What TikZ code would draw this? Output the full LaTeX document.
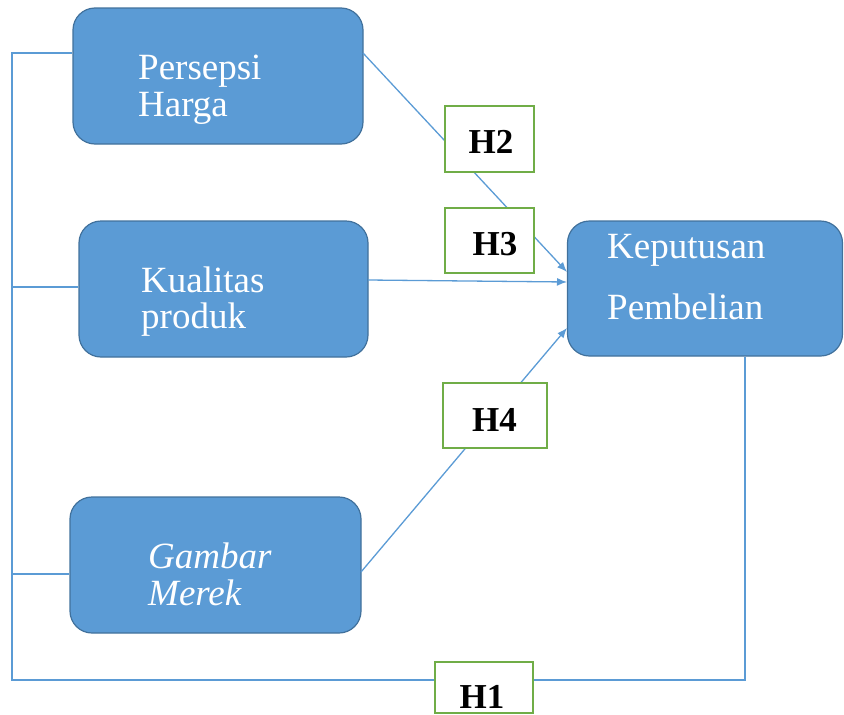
\documentclass[tikz,border=0pt]{standalone}
\usepackage{fontspec}
\setmainfont{Liberation Serif}
\usetikzlibrary{arrows.meta,calc}
\definecolor{boxblue}{HTML}{5B9BD5}
\definecolor{boxedge}{HTML}{41719C}
\definecolor{hgreen}{HTML}{70AD47}
\tikzset{
  varbox/.style={draw=boxedge, line width=1.2pt, fill=boxblue, rounded corners=22pt, rectangle, inner sep=0pt},
  vartext/.style={anchor=base west, text=white, font=\fontsize{37}{38}\selectfont, inner sep=0pt},
  hbox/.style={draw=hgreen, line width=1.8pt, fill=white, rectangle, inner sep=0pt},
  htext/.style={font=\fontsize{35}{36}\selectfont\bfseries, text=black, inner sep=0pt, anchor=base},
  conn/.style={draw=boxblue, line width=1.3pt},
  arr/.style={conn, -{Latex[length=10pt,width=8pt]}}
}
\begin{document}
\begin{tikzpicture}[x=1pt,y=-1pt]
\useasboundingbox (0,0) rectangle (844,715);
% variable boxes
\node[varbox, minimum width=290pt, minimum height=136pt] (b1) at (218,76) {};
\node[varbox, minimum width=289pt, minimum height=136pt] (b2) at (223.5,289) {};
\node[varbox, minimum width=291pt, minimum height=136pt] (b3) at (215.5,565) {};
\node[varbox, minimum width=275pt, minimum height=135pt] (K) at (705,288.5) {};
% texts
\node[vartext] (t1a) at (138,79) {Persepsi};
\node[vartext] (t1b) at (138,116) {Harga};
\node[vartext] (t2a) at (141,292) {Kualitas};
\node[vartext] (t2b) at (141,328) {produk};
\node[vartext, font=\fontsize{37}{38}\selectfont\itshape] (t3a) at (148,568) {Gambar};
\node[vartext, font=\fontsize{37}{38}\selectfont\itshape] (t3b) at (148,605) {Merek};
\node[vartext] (tKa) at (607,258) {Keputusan};
\node[vartext] (tKb) at (607,319) {Pembelian};
% connector coordinates
\coordinate (tl) at (12,53);
\coordinate (m2) at (12,287);
\coordinate (m3) at (12,574);
\coordinate (bl) at (12,680);
\coordinate (kx) at (745,680);
\coordinate (s1) at (363,53);
\coordinate (e1) at (567,272);
\coordinate (s2) at (368,280);
\coordinate (e2) at (567,282);
\coordinate (s3) at (361,572);
\coordinate (e3) at (567,328);
% left trunk and H1 loop
\draw[conn] (b1.west |- tl) -- (tl) -- (bl) -- (kx) -- (kx |- K.south);
\draw[conn] (b2.west |- m2) -- (m2);
\draw[conn] (b3.west |- m3) -- (m3);
% arrows to Keputusan
\draw[arr] (s1) -- (e1);
\draw[arr] (s2) -- (e2);
\draw[arr] (s3) -- (e3);
% hypothesis boxes
\node[hbox, minimum width=89pt, minimum height=66pt] (h2) at (489.5,139) {};
\node[hbox, minimum width=89pt, minimum height=65pt] (h3) at (489.5,240.5) {};
\node[hbox, minimum width=104pt, minimum height=65pt] (h4) at (495,415.5) {};
\node[hbox, minimum width=98pt, minimum height=51pt] (h1) at (484,687.5) {};
\node[htext] (h2t) at (491,153) {H2};
\node[htext] (h3t) at (495,255) {H3};
\node[htext] (h4t) at (494.5,431) {H4};
\node[htext] (h1t) at (482,708) {H1};
\end{tikzpicture}
\end{document}
